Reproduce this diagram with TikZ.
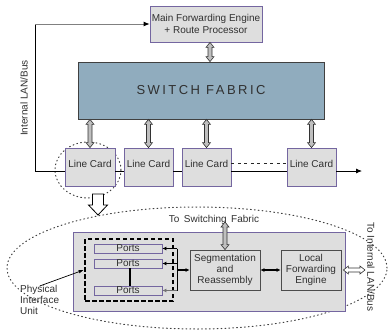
\documentclass[tikz,border=0pt]{standalone}
\usepackage{fontspec}
\setmainfont{Liberation Sans}
\usetikzlibrary{arrows.meta,calc}
\definecolor{boxgray}{HTML}{DEDEDE}
\definecolor{purp}{HTML}{7466A0}
\definecolor{sfblue}{HTML}{90ACBE}
\definecolor{txt}{HTML}{303030}
\begin{document}
\begin{tikzpicture}[x=1pt,y=-1pt,
  font=\fontsize{10}{11.5}\selectfont, text=txt,
  box/.style={draw=purp, fill=boxgray, line width=0.8pt, inner sep=0pt},
  card/.style={box, minimum width=49pt, minimum height=38pt, text depth=7pt},
  portbox/.style={box, minimum width=68pt, minimum height=9pt, text depth=1pt},
  inbox/.style={draw=black!70, fill=boxgray, line width=0.8pt, inner sep=0pt, minimum width=70pt, minimum height=40pt, align=center, font=\fontsize{10}{11}\selectfont},
  bus/.style={black, line width=0.8pt},
  dots/.style={black!75, line width=1pt, dash pattern=on 0.9pt off 3pt, line cap=round},
  hollow/.style={draw=black!80, fill=black!25, line width=0.6pt,
    to path={(\tikztostart) -- ($(\tikztostart)!5pt!(\tikztotarget)!4pt!90:(\tikztotarget)$)
      -- ($(\tikztostart)!5pt!(\tikztotarget)!2pt!90:(\tikztotarget)$)
      -- ($(\tikztotarget)!5pt!(\tikztostart)!2pt!270:(\tikztostart)$)
      -- ($(\tikztotarget)!5pt!(\tikztostart)!4pt!270:(\tikztostart)$)
      -- (\tikztotarget)
      -- ($(\tikztotarget)!5pt!(\tikztostart)!4pt!90:(\tikztostart)$)
      -- ($(\tikztotarget)!5pt!(\tikztostart)!2pt!90:(\tikztostart)$)
      -- ($(\tikztostart)!5pt!(\tikztotarget)!2pt!270:(\tikztotarget)$)
      -- ($(\tikztostart)!5pt!(\tikztotarget)!4pt!270:(\tikztotarget)$)
      -- cycle}},
  tip/.style={-{Latex[length=4pt,width=4pt]}},
]
\useasboundingbox (0,0) rectangle (390,329);

% top
\node[box, minimum width=112pt, minimum height=36pt, align=center,
  font=\fontsize{10}{12}\selectfont] (main) at (206,24)
  {Main Forwarding Engine\\+ Route Processor};
\node[draw=black!75, fill=sfblue, line width=0.8pt, minimum width=246pt, minimum height=57pt,
  font=\fontsize{13}{15}\selectfont\addfontfeatures{LetterSpace=19}] (sf) at (201,90.5) {SWITCH FABRIC};

% small dotted ellipse
\draw[dots] (88,170) ellipse [x radius=33pt, y radius=28pt];

% line cards
\node[card, minimum width=50pt] (lc1) at (90,167) {Line Card};
\node[card] (lc2) at (148.5,167) {Line Card};
\node[card] (lc3) at (206.5,167) {Line Card};
\node[card] (lc4) at (311.5,167) {Line Card};

% bus
\coordinate (busL) at (35,171);
\coordinate (busR) at (362,171);
\draw[bus] (busL) -- (busL -| lc1.west);
\draw[bus] (lc1.east |- busL) -- (lc2.west |- busL);
\draw[bus] (lc2.east |- busL) -- (lc3.west |- busL);
\draw[bus] (lc3.east |- busL) -- (lc4.west |- busL);
\draw[bus, -{Latex[length=6pt,width=5pt]}] (lc4.east |- busL) -- (busR);
\draw[bus] (busL) -- (busL |- main.west);
\draw[black!50, line width=0.8pt, -{Latex[length=6pt,width=5pt,color=black]}] (busL |- main.west) -- (main.west);
\draw[black!85, line width=0.8pt, dash pattern=on 3pt off 3.5pt] ([yshift=4pt]lc3.east) -- ([yshift=4pt]lc4.west);
\node[rotate=90] (lanlabel) at (24,98) {Internal LAN/Bus};

% hollow double arrows
\draw[hollow] ([xshift=4pt]main.south) to ([xshift=4pt]main.south |- sf.north);
\draw[hollow] (lc1.north |- sf.south) to (lc1.north);
\draw[hollow] (lc2.north |- sf.south) to (lc2.north);
\draw[hollow] (lc3.north |- sf.south) to (lc3.north);
\draw[hollow] (lc4.north |- sf.south) to (lc4.north);

% big zoom arrow
\draw[fill=white, draw=black, line width=0.8pt]
  (92.5,194) -- (103.5,194) -- (103.5,205) -- (107.5,205) -- (98,215) -- (88.5,205) -- (92.5,205) -- cycle;

% big dotted ellipse
\draw[dots] (197,268) ellipse [x radius=190pt, y radius=61pt];

% line card detail
\node[box, minimum width=272pt, minimum height=79pt] (lcbig) at (209,271.5) {};
\node[draw=black, line width=2.6pt, dash pattern=on 4.5pt off 2.5pt, minimum width=88pt, minimum height=62pt, inner sep=0pt] (piu) at (129,270) {};
\node[portbox] (p1) at (128,248.5) {Ports};
\node[portbox] (p2) at (128,263.5) {Ports};
\node[portbox] (p3) at (128,290.5) {Ports};
\draw[black, line width=1.6pt] ([xshift=2pt]p2.south) -- ([xshift=2pt]p3.north);

\node[inbox] (seg) at (225,270) {Segmentation\\and\\Reassembly};
\node[inbox, minimum width=60pt] (lfe) at (311,270) {Local\\Forwarding\\Engine};

\coordinate (vx) at (177,0);
\draw[black, line width=1pt] (vx |- p1.east) -- (vx |- p3.east);
\draw[black, line width=1pt, tip] (vx |- p1.east) -- (p1.east);
\draw[black, line width=1pt, tip] (vx |- p2.east) -- (p2.east);
\draw[black!55, line width=1pt, tip] (vx |- p3.east) -- (p3.east);
\draw[black, line width=1.4pt, tip] (vx |- seg.west) -- (seg.west);
\draw[black, line width=1.4pt, {Latex[length=4pt,width=4pt]}-{Latex[length=4pt,width=4pt]}] (seg.east) -- (lfe.east -| lfe.west);

\node[anchor=base] (tosf) at (214,222) {To\, Switching\, Fabric};
\draw[hollow] (seg.north) to (seg.north |- tosf.base);
\coordinate (lanend) at (365,270);
\draw[hollow, fill=white] ([xshift=2pt]lfe.east) to (lanend);
\node[rotate=-90] (tolan) at (371,267) {To Internal LAN/Bus};

\node[align=left, anchor=north west, inner sep=0pt, font=\fontsize{10}{11}\selectfont] (piul) at (20,285) {Physical\\Interface\\Unit};
\draw[black, line width=0.7pt, -{Latex[length=5pt,width=3.5pt]}] ([yshift=-1pt]piul.north) -- (piu.west);
\end{tikzpicture}
\end{document}
